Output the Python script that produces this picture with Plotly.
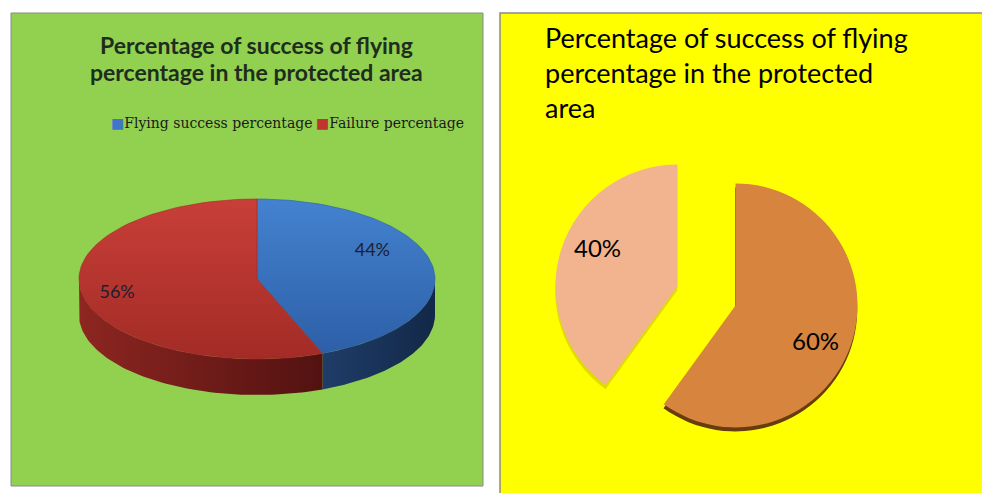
import numpy as np
import plotly.graph_objects as go

# ---------------- data ----------------
left_title_lines = ["Percentage of success of flying", "percentage in the protected area"]
left_labels = ["Flying success percentage", "Failure percentage"]
left_values = [44, 56]

right_title_lines = ["Percentage of success of flying", "percentage in the protected", "area"]
right_labels = ["Flying success percentage", "Failure percentage"]
right_values = [60, 40]

# ---------------- styles ----------------
W, H = 982, 493
GREEN = "#92D050"
YELLOW = "#FFFF00"
top_colors = [("#4482cf", "#2c5ea6"), ("#c83f38", "#a32b26")]
side_colors = [("#1f3d69", "#132848"), ("#8e2621", "#521211")]
legend_sq = ["#3d78c6", "#c0342e"]
right_colors = ["#D6843E", "#F2B48E"]

# 3D-pie geometry (pixel units of the page)
cx, cy, rx, ry, depth = 257, 279, 178, 80, 36

fig = go.Figure()


def arc(a1, a2, n=80, dy=0):
    t = np.radians(np.linspace(a1, a2, n))
    return cx + rx * np.sin(t), cy - ry * np.cos(t) + dy


total = sum(left_values)
angles = []
a = 0.0
for v in left_values:
    angles.append((a, a + 360.0 * v / total))
    a += 360.0 * v / total

# side walls (front half only: 90..270 degrees clockwise from 12 o'clock)
for (a1, a2), (c0, c1) in zip(angles, side_colors):
    s1, s2 = max(a1, 90), min(a2, 270)
    if s2 <= s1:
        continue
    xt, yt = arc(s1, s2)
    xb, yb = arc(s1, s2, dy=depth)
    xs = np.concatenate([xt, xb[::-1], xt[:1]])
    ys = np.concatenate([yt, yb[::-1], yt[:1]])
    fig.add_trace(go.Scatter(
        x=xs, y=ys, mode="lines", fill="toself", line=dict(width=0, color=c1),
        fillgradient=dict(type="horizontal", colorscale=[[0, c0], [1, c1]],
                          start=xs.min(), stop=xs.max()),
        hoverinfo="skip", showlegend=False))

# top faces
for (a1, a2), (c0, c1), lab in zip(angles, top_colors, left_labels):
    xa, ya = arc(a1, a2)
    xs = np.concatenate([[cx], xa, [cx]])
    ys = np.concatenate([[cy], ya, [cy]])
    fig.add_trace(go.Scatter(
        x=xs, y=ys, mode="lines", fill="toself", line=dict(width=0.6, color=c1),
        fillgradient=dict(type="vertical", colorscale=[[0, c0], [1, c1]],
                          start=cy - ry, stop=cy + ry),
        name=lab, hoverinfo="name", showlegend=False))

# percentage labels on the 3D pie
lx, ly = [], []
for (a1, a2) in angles:
    m = np.radians((a1 + a2) / 2)
    rr = 0.66 if np.sin(m) > 0 else 0.8
    lx.append(cx + rr * rx * np.sin(m))
    ly.append(cy - rr * ry * np.cos(m) - (18 if np.sin(m) > 0 else -3))
fig.add_trace(go.Scatter(
    x=lx, y=ly, mode="text", text=[f"{v}%" for v in left_values],
    textfont=dict(family="Lato", size=18, color="#1b1f2e"),
    hoverinfo="skip", showlegend=False))

# exploded pie (right panel)
pie_cx, pie_cy, pie_half, pull = 706.5, 296, 152.5, 0.25
pie_r = pie_half / (1 + pull)


def dom(ox=0, oy=0):
    return dict(x=[(pie_cx - pie_half + ox) / W, (pie_cx + pie_half + ox) / W],
                y=[1 - (pie_cy + pie_half + oy) / H, 1 - (pie_cy - pie_half + oy) / H])


fig.add_trace(go.Pie(
    values=right_values, labels=right_labels, sort=False, direction="clockwise", rotation=0,
    pull=[pull, pull], domain=dom(-0.3, 4), textinfo="none", hoverinfo="skip",
    marker=dict(colors=["rgba(95,50,15,0.95)", "rgba(150,140,0,0.3)"], line=dict(width=0)),
    showlegend=False))

fig.add_trace(go.Pie(
    values=right_values, labels=right_labels, sort=False, direction="clockwise", rotation=0,
    pull=[pull, pull], domain=dom(), textinfo="none",
    marker=dict(colors=right_colors, line=dict(width=0)),
    showlegend=False))

shapes = [
    dict(type="rect", xref="x", yref="y", x0=11, x1=483, y0=13, y1=486,
         fillcolor=GREEN, line=dict(color="#8a8a8a", width=1), layer="below"),
    dict(type="rect", xref="x", yref="y", x0=500, x1=990, y0=13, y1=500,
         fillcolor=YELLOW, line=dict(color="#8a8a8a", width=1.5), layer="below"),
]

annotations = []

# labels of the exploded pie, placed along each slice's mid-angle (drawn above the pie)
rt = sum(right_values)
a = 0.0
for v in right_values:
    m = np.radians(a + 180.0 * v / rt + 5)
    a += 360.0 * v / rt
    ux, uy = np.sin(m), -np.cos(m)
    annotations.append(dict(
        x=pie_cx + (pull + 0.72) * pie_r * ux, y=pie_cy + (pull + 0.72) * pie_r * uy - 2,
        xref="x", yref="y", text=f"{v}%", showarrow=False,
        xanchor="center", yanchor="middle",
        font=dict(family="Lato", size=24, color="#000000")))

for i, line in enumerate(left_title_lines):
    annotations.append(dict(
        x=256, y=45 + 27 * i, xref="x", yref="y", text=f"<b>{line}</b>", showarrow=False,
        xanchor="center", yanchor="middle",
        font=dict(family="Lato", size=23, color="#1e2d1e")))
leg_x = [109, 314]
for xx, lab, col in zip(leg_x, left_labels, legend_sq):
    annotations.append(dict(
        x=xx, y=123, xref="x", yref="y", showarrow=False, xanchor="left", yanchor="middle",
        text=f'<span style="color:{col};font-size:14px">■</span>{lab}',
        font=dict(family="DejaVu Serif", size=14, color="#1a1a1a")))
for i, line in enumerate(right_title_lines):
    annotations.append(dict(
        x=543, y=37 + 35 * i, xref="x", yref="y", text=line, showarrow=False,
        xanchor="left", yanchor="middle",
        font=dict(family="Lato", size=27, color="#000000")))

fig.update_layout(
    width=W, height=H, margin=dict(l=0, r=0, t=0, b=0),
    paper_bgcolor="white", plot_bgcolor="rgba(0,0,0,0)",
    xaxis=dict(range=[0, W], domain=[0, 1], visible=False, fixedrange=True),
    yaxis=dict(range=[H, 0], domain=[0, 1], visible=False, fixedrange=True),
    shapes=shapes, annotations=annotations, showlegend=False,
)

fig.write_html("out.html")
